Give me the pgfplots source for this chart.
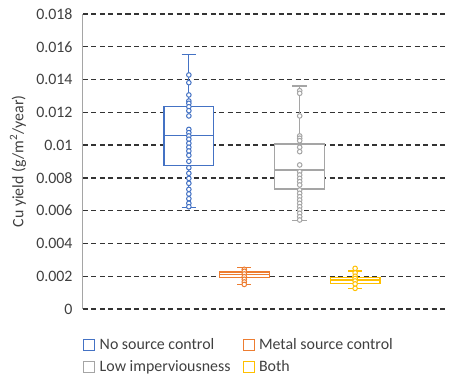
\documentclass[border=0pt]{standalone}
\usepackage{pgfplots}
\pgfplotsset{compat=1.18}
\usepgfplotslibrary{statistics}
\usepackage{fontspec}
\setmainfont{Carlito}
\definecolor{cblue}{HTML}{4472C4}
\definecolor{corange}{HTML}{ED7D31}
\definecolor{cgray}{HTML}{A5A5A5}
\definecolor{cyellow}{HTML}{FFC000}
\definecolor{ctext}{HTML}{404040}
\pgfplotsset{sqlegend/.style={legend image code/.code={\draw[##1,fill=white,line width=1.1pt] (0pt,-5.5pt) rectangle (11pt,5.5pt); \path[draw=none,fill=none] (13pt,0pt) rectangle (14pt,0.1pt);}}}
\begin{document}
\fontsize{15.9}{19}\selectfont
% values below are Cu yield in units of 0.001 g/m^2/year
\begin{tikzpicture}[x=1pt,y=1pt]
\useasboundingbox (0,0) rectangle (461,383);
\begin{axis}[
  at={(83pt,74pt)}, anchor=south west,
  scale only axis, width=365pt, height=295pt,
  xmin=-0.91, xmax=5.676,
  ymin=0, ymax=18,
  ytick={0,2,4,6,8,10,12,14,16,18},
  yticklabels={0,0.002,0.004,0.006,0.008,0.01,0.012,0.014,0.016,0.018},
  yticklabel style={text=ctext, xshift=-5pt},
  axis x line=none,
  axis y line*=left,
  y axis line style={draw=cgray, line width=1pt, -},
  major tick length=0pt,
  ymajorgrids,
  grid style={black!80, line width=1.4pt, dash pattern=on 5pt off 3.5pt},
  clip=false,
  ylabel={Cu yield (g/m\textsuperscript{2}/year)},
  every axis y label/.style={at={(axis description cs:-0.178,0.5)}, rotate=90, anchor=center, text=ctext},
  legend columns=2,
  legend cell align=left,
  legend style={at={(0,0)}, anchor=north west, xshift=-3pt, yshift=-25pt, draw=none, fill=none, text=ctext,
    row sep=5pt, /tikz/every even column/.append style={column sep=10pt}},
]
\addlegendimage{sqlegend, cblue}
\addlegendentry{No source control}
\addlegendimage{sqlegend, corange}
\addlegendentry{Metal source control}
\addlegendimage{sqlegend, cgray}
\addlegendentry{Low imperviousness}
\addlegendimage{sqlegend, cyellow}
\addlegendentry{Both}
% boxes
\addplot[cblue, line width=1.2pt, fill=white, forget plot, boxplot prepared={draw direction=y, draw position=1, lower whisker=6.18, lower quartile=8.75, median=10.58, upper quartile=12.34, upper whisker=15.52, box extend=0.9, whisker extend=0.26}] coordinates {};
\addplot[corange, line width=1.2pt, fill=white, forget plot, boxplot prepared={draw direction=y, draw position=2, lower whisker=1.50, lower quartile=1.94, median=2.09, upper quartile=2.26, upper whisker=2.54, box extend=0.9, whisker extend=0.26}] coordinates {};
\addplot[cgray, line width=1.2pt, fill=white, forget plot, boxplot prepared={draw direction=y, draw position=3, lower whisker=5.39, lower quartile=7.32, median=8.48, upper quartile=10.07, upper whisker=13.61, box extend=0.9, whisker extend=0.26}] coordinates {};
\addplot[cyellow, line width=1.2pt, fill=white, forget plot, boxplot prepared={draw direction=y, draw position=4, lower whisker=1.26, lower quartile=1.57, median=1.77, upper quartile=1.94, upper whisker=2.32, box extend=0.9, whisker extend=0.26}] coordinates {};
% points
\addplot[only marks, forget plot, mark=*, mark size=2.3pt, mark options={draw=cblue, fill=white, line width=1pt}] coordinates {
(1,14.28)(1,13.81)(1,13.06)(1,12.69)(1,12.55)(1,12.34)(1,12.10)(1,11.78)
(1,10.96)(1,10.76)(1,10.56)(1,10.36)(1,10.11)(1,9.87)(1,9.64)(1,9.38)
(1,9.01)(1,8.62)(1,8.28)(1,7.97)(1,7.67)(1,7.30)(1,7.02)(1,6.73)
(1,6.45)(1,6.24)};
\addplot[only marks, forget plot, mark=*, mark size=2.3pt, mark options={draw=corange, fill=white, line width=1pt}] coordinates {
(2,2.42)(2,2.30)(2,2.14)(2,1.97)(2,1.81)(2,1.65)(2,1.50)};
\addplot[only marks, forget plot, mark=*, mark size=2.3pt, mark options={draw=cgray, fill=white, line width=1pt}] coordinates {
(3,13.32)(3,13.16)(3,11.78)(3,10.56)(3,10.42)(3,10.27)(3,9.87)(3,9.60)
(3,8.79)(3,8.38)(3,8.18)(3,7.97)(3,7.77)(3,7.57)(3,7.26)(3,7.06)
(3,6.85)(3,6.65)(3,6.45)(3,6.24)(3,6.04)(3,5.84)(3,5.63)(3,5.43)};
\addplot[only marks, forget plot, mark=*, mark size=2.3pt, mark options={draw=cyellow, fill=white, line width=1pt}] coordinates {
(4,2.48)(4,2.20)(4,2.00)(4,1.86)(4,1.71)(4,1.53)(4,1.26)};
\end{axis}
\end{tikzpicture}
\end{document}
